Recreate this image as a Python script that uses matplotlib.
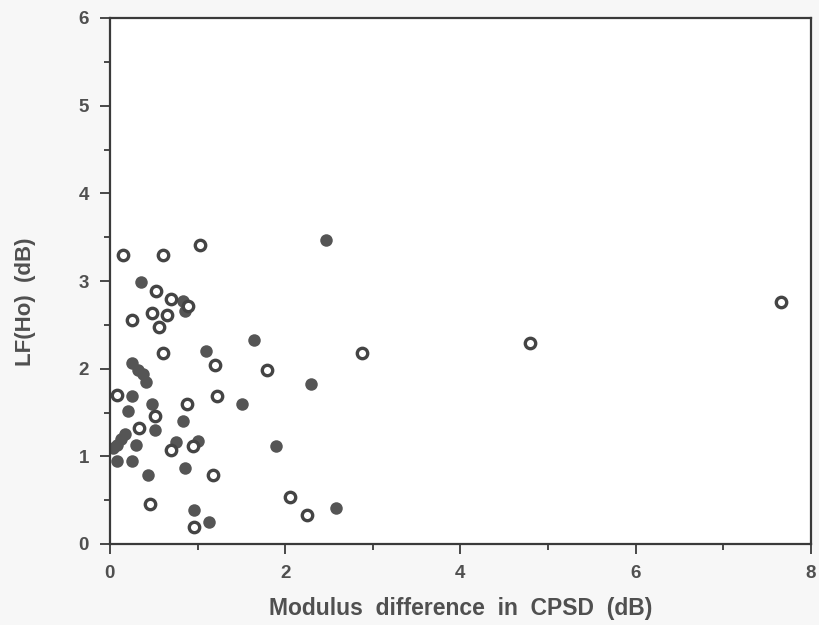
import matplotlib.pyplot as plt
from matplotlib.ticker import MultipleLocator

# filled circles
filled_x = [0.35, 0.83, 0.86, 1.10, 0.25, 0.32, 0.38, 0.41, 0.25, 0.48, 0.21, 0.83, 0.51,
            0.17, 0.13, 0.08, 0.04, 0.30, 0.75, 1.01, 0.08, 0.25, 0.86, 0.43, 0.96, 1.13,
            1.64, 2.29, 1.51, 1.89, 2.47, 2.58]
filled_y = [2.99, 2.77, 2.66, 2.20, 2.06, 1.98, 1.94, 1.85, 1.69, 1.60, 1.52, 1.40, 1.30,
            1.26, 1.20, 1.13, 1.09, 1.13, 1.16, 1.18, 0.95, 0.95, 0.87, 0.79, 0.39, 0.25,
            2.33, 1.83, 1.60, 1.12, 3.47, 0.41]

# open circles
open_x = [0.15, 0.61, 1.03, 0.53, 0.70, 0.89, 0.48, 0.65, 0.25, 0.56, 0.61, 1.20, 0.08,
          1.22, 0.88, 0.51, 0.33, 0.70, 0.95, 1.18, 0.46, 0.96, 1.79, 2.05, 2.25, 2.88,
          4.79, 7.66]
open_y = [3.30, 3.30, 3.41, 2.89, 2.79, 2.72, 2.64, 2.61, 2.56, 2.48, 2.18, 2.04, 1.70,
          1.69, 1.60, 1.46, 1.32, 1.07, 1.12, 0.79, 0.46, 0.19, 1.98, 0.54, 0.33, 2.18,
          2.29, 2.76]

plt.rcParams['font.family'] = ['Liberation Sans', 'DejaVu Sans']
plt.rcParams['font.weight'] = 'bold'
ink = '#3a3a3a'
txt = '#505050'

fig = plt.figure(figsize=(8.2, 6.25), dpi=100)
ax = fig.add_axes([0.134, 0.1296, 0.855, 0.8416])

ax.plot(filled_x, filled_y, 'o', color='#555555', markersize=9, markeredgewidth=0, linestyle='none')
ax.plot(open_x, open_y, 'o', markerfacecolor='white', markeredgecolor='#444444',
        markersize=7.5, markeredgewidth=2.4, linestyle='none')

ax.set_xlim(0, 8)
ax.set_ylim(0, 6)
ax.xaxis.set_major_locator(MultipleLocator(2))
ax.xaxis.set_minor_locator(MultipleLocator(1))
ax.yaxis.set_major_locator(MultipleLocator(1))
ax.yaxis.set_minor_locator(MultipleLocator(0.5))
ax.tick_params(which='major', direction='out', length=7, width=1.3, color=ink,
               labelsize=13.5, labelcolor=txt)
ax.tick_params(axis='x', which='major', pad=8)
ax.tick_params(axis='y', which='major', pad=8)
ax.tick_params(which='minor', direction='out', length=4, width=1.3, color=ink)
for s in ax.spines.values():
    s.set_linewidth(1.6)
    s.set_color(ink)

ax.set_xlabel('Modulus  difference  in  CPSD  (dB)', fontsize=16.5, fontweight='bold', color=txt, labelpad=11)
ax.set_ylabel('LF(Ho)  (dB)', fontsize=16, fontweight='bold', color=txt)
ax.yaxis.set_label_coords(-0.105, 0.46)

fig.savefig('out.png', dpi=100, facecolor='#f7f7f7')
